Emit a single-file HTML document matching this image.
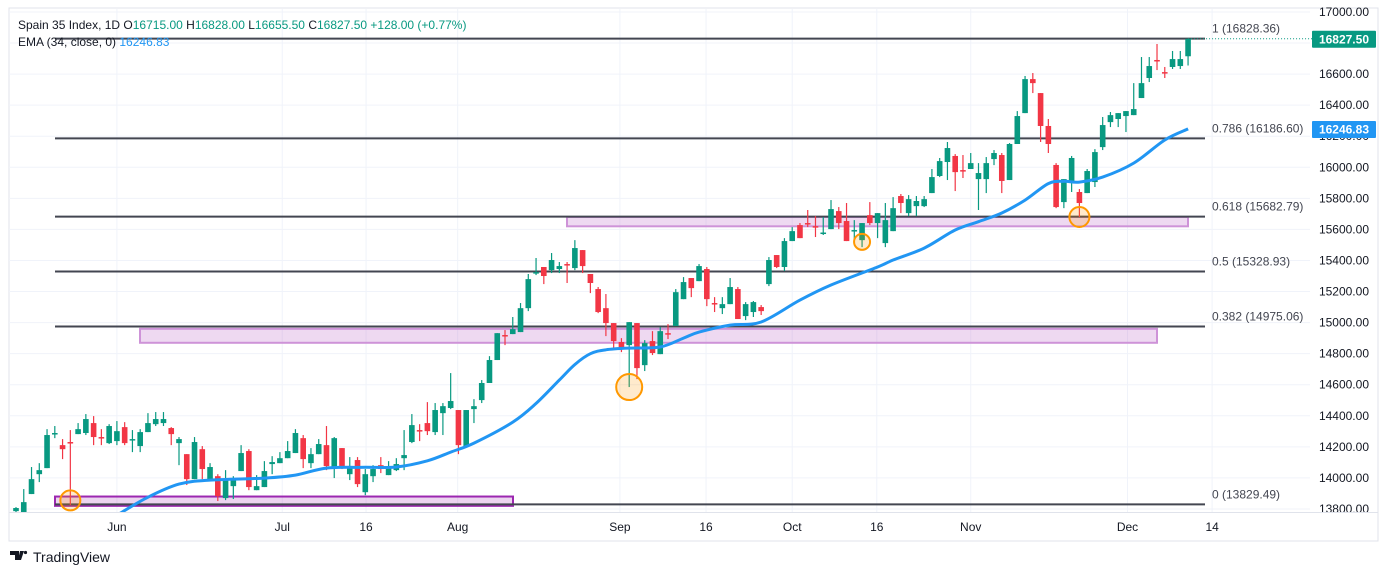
<!DOCTYPE html>
<html><head><meta charset="utf-8"><style>
body{margin:0;background:#fff;width:1388px;height:575px;overflow:hidden;font-family:"Liberation Sans",sans-serif}
svg{position:absolute;left:0;top:0}
</style></head><body>
<svg id="chart" width="1388" height="575" viewBox="0 0 1388 575" font-family="Liberation Sans, sans-serif">
<rect x="9" y="8" width="1369" height="533" fill="#fff" stroke="#e0e3eb" stroke-width="1"/>
<g id="grid"></g>
<g id="zones"></g>
<g id="fib"></g>
<g id="candles"></g>
<g id="ema"></g>
<g id="circles"></g>
<g id="yaxis"></g>
<g id="xaxis"></g>
<line x1="9" y1="512.5" x2="1378" y2="512.5" stroke="#e0e3eb"/>
<g font-size="12">
<text x="18" y="29" fill="#131722">Spain 35 Index, 1D <tspan fill="#131722">O</tspan><tspan fill="#089981">16715.00</tspan> <tspan fill="#131722">H</tspan><tspan fill="#089981">16828.00</tspan> <tspan fill="#131722">L</tspan><tspan fill="#089981">16655.50</tspan> <tspan fill="#131722">C</tspan><tspan fill="#089981">16827.50 +128.00 (+0.77%)</tspan></text>
<text x="18" y="46" fill="#131722">EMA (34, close, 0) <tspan fill="#2196f3">16246.83</tspan></text>
</g>
<g>
<path d="M10 551h9v9h-4v-5h-5z M20 551h4l-3 9h-3z" fill="#131722"/>
<circle cx="25.5" cy="552.5" r="1.6" fill="#131722"/>
<text x="33" y="562" font-size="14" fill="#131722">TradingView</text>
</g>
</svg>
<script>
const NS='http://www.w3.org/2000/svg';
const opens=[13786,13780,13896,14024,14063,14282,14211,14231,14282,14289,14353,14263,14224,14237,14327,14243,14205,14295,14346,14353,14321,14224,14153,13992,14185,13979,14011,13870,13947,14044,14173,13921,13941,14089,14095,14127,14160,14256,14095,14153,14211,14063,14192,14024,14115,13908,14011,14082,14018,14050,14127,14231,14308,14353,14295,14417,14450,14437,14205,14443,14501,14611,14759,14920,14926,14939,15093,15319,15358,15338,15345,15377,15351,15467,15313,15216,15093,14997,14875,14855,14997,14726,14881,14797,14932,14978,15151,15287,15267,15345,15126,15093,15119,15216,15042,15068,15100,15248,15435,15358,15525,15628,15641,15621,15577,15602,15718,15654,15593,15531,15692,15641,15512,15589,15815,15705,15750,15750,15834,15944,16034,16073,15982,15989,15924,15924,16053,16079,15918,16150,16349,16568,16478,16266,16015,15776,15899,15841,15834,15905,16130,16291,16311,16330,16336,16446,16575,16691,16613,16646,16652,16715];
const closes=[13806,13844,13992,14050,14276,14289,14185,14224,14314,14379,14263,14256,14334,14301,14224,14250,14295,14353,14379,14379,14282,14250,13992,14231,14057,14070,13883,13986,13986,14160,13941,13947,14044,14102,14127,14173,14289,14121,14153,14218,14076,14256,14070,14076,13960,14024,14057,14057,14076,14089,14147,14340,14301,14301,14437,14462,14495,14211,14437,14462,14611,14759,14932,14913,14958,15093,15280,15325,15300,15403,15364,15371,15480,15364,15255,15068,14997,14881,14836,15003,14707,14868,14804,14945,14926,15196,15261,15222,15364,15151,15119,15119,15229,15023,15119,15132,15074,15403,15358,15525,15589,15544,15634,15618,15580,15731,15641,15525,15596,15641,15641,15705,15660,15737,15770,15795,15783,15795,15937,16040,16124,15969,15976,16027,15963,16027,16092,15912,16150,16330,16568,16542,16266,16150,15744,15924,16060,15770,15976,16098,16272,16336,16349,16362,16375,16542,16652,16684,16607,16697,16697,16827.5];
const highs=[13812,13928,14070,14095,14314,14334,14250,14308,14353,14411,14398,14314,14346,14366,14359,14308,14314,14417,14424,14424,14327,14263,14153,14263,14205,14095,14024,14050,14011,14211,14185,14018,14108,14140,14166,14237,14314,14276,14192,14250,14334,14263,14192,14134,14134,14057,14082,14134,14108,14127,14308,14411,14346,14488,14482,14482,14675,14437,14437,14507,14630,14784,14932,14952,15036,15126,15313,15416,15358,15448,15390,15390,15531,15467,15313,15229,15184,14997,14900,15003,14997,14887,14945,14971,14990,15216,15293,15287,15377,15358,15164,15164,15287,15229,15132,15139,15113,15422,15435,15544,15615,15641,15725,15686,15680,15789,15744,15770,15660,15641,15776,15705,15770,15808,15828,15821,15815,15815,15989,16060,16163,16085,16079,16092,16027,16066,16111,16092,16156,16362,16588,16607,16478,16311,16027,15924,16073,15860,15989,16117,16324,16356,16349,16362,16542,16710,16710,16794,16646,16749,16749,16828];
const lows=[13780,13780,13896,13973,14063,14256,14121,13825,14282,14276,14211,14211,14218,14211,14211,14166,14166,14295,14334,14334,14211,14082,13954,13992,13992,13979,13851,13857,13864,14044,13921,13921,13941,14024,14095,14127,14160,14063,14063,14153,14050,13999,14057,13986,13941,13889,13973,14031,14018,14044,14050,14224,14237,14276,14276,14276,14443,14153,14205,14353,14482,14611,14759,14855,14926,14939,15074,15306,15248,15319,15319,15255,15338,15319,15190,15061,14913,14830,14810,14585,14636,14688,14791,14797,14894,14978,15151,15164,15267,15106,15068,15055,15119,15023,15016,15036,15049,15235,15351,15332,15525,15544,15615,15551,15564,15602,15602,15525,15499,15486,15628,15544,15486,15589,15705,15686,15686,15744,15834,15937,15918,15847,15931,15989,15725,15834,16014,15834,15918,16150,16349,16478,16163,16092,15737,15737,15841,15680,15834,15873,16111,16259,16259,16227,16336,16446,16549,16626,16575,16633,16633,16655.5];
const emaIdx=[13,17,21,25,32,36,40,45,49,53,56,59,64,67,70,72,74,76,79,83,86,88,92,96,101,105,111,113,117,121,124,127,130,133,135,137,140,144,148,151];
const emaVal=[13760,13876,13960,13986,13999,14018,14063,14068,14070,14110,14166,14224,14359,14480,14630,14730,14800,14825,14836,14843,14900,14939,14984,15004,15145,15242,15358,15403,15480,15596,15650,15706,15789,15895,15910,15905,15937,16027,16176,16247];
const priceTicks=[17000,16800,16600,16400,16200,16000,15800,15600,15400,15200,15000,14800,14600,14400,14200,14000,13800];
const timeLabels=['Jun','Jul','16','Aug','Sep','16','Oct','16','Nov','Dec','14'];
const timeIdx=[13.0,34.3,45.1,56.9,77.8,88.9,100,110.9,123,143.2,154.1];
const fibRatios=['1','0.786','0.618','0.5','0.382','0'];
const fibPrices=[16828.36,16186.60,15682.79,15328.93,14975.06,13829.49];
const zoneTop=[13880,14960,15680];
const zoneBot=[13820,14870,15620];
const zoneStart=[5,16,71];
const zoneEnd=[64,146,151];
const circleIdx=[7,79,109,137];
const circlePrice=[13855,14585,15520,15680];
const lastPrice=16827.5, lastEma=16246.83;

const Y=p=>12+(17000-p)/200*31.06;
const X=i=>16+i*7.762;
function el(tag,attrs,parent){const e=document.createElementNS(NS,tag);for(const k in attrs)e.setAttribute(k,attrs[k]);parent.appendChild(e);return e;}
const g=id=>document.getElementById(id);

priceTicks.forEach(p=>{const l=el('line',{x1:9,x2:1310,y1:Y(p),y2:Y(p),stroke:'#f0f3fa'},g('grid'));

});
timeIdx.forEach(i=>{const l=el('line',{x1:X(i),x2:X(i),y1:9,y2:512,stroke:'#f0f3fa'},g('grid'));

});

zoneTop.forEach((t,k)=>{const first=k===0;
const r=el('rect',{x:X(zoneStart[k])+16,y:Y(t),width:X(zoneEnd[k])-X(zoneStart[k]),height:Y(zoneBot[k])-Y(t),fill:first?'rgba(156,39,176,0.2)':'rgba(186,104,200,0.25)',stroke:first?'#9c27b0':'#ce93d8','stroke-width':2},g('zones'));

});
const zr=g('zones').children;
[[55,513],[140,1157],[567,1188]].forEach((a,k)=>{zr[k].setAttribute('x',a[0]);zr[k].setAttribute('width',a[1]-a[0]);});

fibPrices.forEach((p,k)=>{const l=el('line',{x1:55,x2:1205,y1:Y(p),y2:Y(p),stroke:'#434651','stroke-width':2},g('fib'));


const t=el('text',{x:1212,y:Y(p)-6,'font-size':12,fill:'#434651'},g('fib'));
t.textContent=fibRatios[k]+' ('+p.toFixed(2)+')';

});

opens.forEach((o,i)=>{const c=closes[i];const up=c>=o;const col=up?'#089981':'#f23645';const x=X(i);
const w=el('line',{x1:x,x2:x,y1:Y(highs[i]),y2:Y(lows[i]),stroke:col,'stroke-width':1.2},g('candles'));


const top=Y(Math.max(o,c)),h=Math.max(1.5,Y(Math.min(o,c))-top);
const b=el('rect',{x:x-2.8,y:top,width:5.6,height:h,fill:col},g('candles'));

});

// smooth EMA (Catmull-Rom)
const pts=emaIdx.map((i,k)=>[X(i),Y(emaVal[k])]);
let d='M'+pts[0][0].toFixed(1)+' '+pts[0][1].toFixed(1);
for(let k=0;k<pts.length-1;k++){const p0=pts[Math.max(0,k-1)],p1=pts[k],p2=pts[k+1],p3=pts[Math.min(pts.length-1,k+2)];
const c1=[p1[0]+(p2[0]-p0[0])/6,p1[1]+(p2[1]-p0[1])/6],c2=[p2[0]-(p3[0]-p1[0])/6,p2[1]-(p3[1]-p1[1])/6];
d+='C'+c1.map(v=>v.toFixed(1)).join(' ')+' '+c2.map(v=>v.toFixed(1)).join(' ')+' '+p2.map(v=>v.toFixed(1)).join(' ');}
const clip=el('clipPath',{id:'plotclip'},g('ema'));el('rect',{x:9,y:9,width:1300,height:503},clip);
const ep=el('path',{d:d,fill:'none',stroke:'#2196f3','stroke-width':3,'stroke-linejoin':'round','clip-path':'url(#plotclip)'},g('ema'));



circleIdx.forEach((i,k)=>{const r=k===1?13:(k===2?8:10);
const c=el('circle',{cx:X(i),cy:Y(circlePrice[k]),r:r,fill:'rgba(255,152,0,0.2)',stroke:'#ff9800','stroke-width':2},g('circles'));

});

const dl=el('line',{x1:X(opens.length-1),x2:1312,y1:Y(lastPrice),y2:Y(lastPrice),stroke:'#089981','stroke-dasharray':'1 2'},g('yaxis'));



priceTicks.forEach(p=>{const t=el('text',{x:1369,y:Y(p)+4,'font-size':12,fill:'#131722','text-anchor':'end'},g('yaxis'));
t.textContent=p.toFixed(2);

});
[[lastPrice,'#089981'],[lastEma,'#2196f3']].forEach(([p,col])=>{const r=el('rect',{x:1312,y:Y(p)-8,width:64,height:17,fill:col,rx:1},g('yaxis'));


const t=el('text',{x:1369,y:Y(p)+4.5,'font-size':12,fill:'#fff','text-anchor':'end','font-weight':'bold'},g('yaxis'));
t.textContent=p.toFixed(2);

});

timeLabels.forEach((s,k)=>{const t=el('text',{x:X(timeIdx[k]),y:531,'font-size':12,fill:'#131722','text-anchor':'middle'},g('xaxis'));
t.textContent=s;

});
</script>
</body></html>
